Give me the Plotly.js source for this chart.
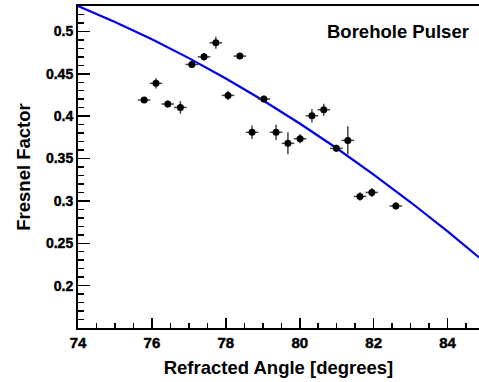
<!DOCTYPE html>
<html>
<head>
<meta charset="utf-8">
<script src="https://cdn.plot.ly/plotly-3.0.1.min.js"></script>
<style>
html,body{margin:0;padding:0;background:#fff;overflow:hidden}
.xtick text, .ytick text { font-weight: bold !important; stroke: #000; stroke-width: 0.45px; }
</style>
</head>
<body>
<div id="chart" style="width:479px;height:382px"></div>
<script>
// Measured data points
const angle = [75.79, 76.11, 76.43, 76.77, 77.08, 77.41, 77.73, 78.06, 78.38, 78.71, 79.03,
               79.36, 79.68, 80.01, 80.33, 80.65, 80.99, 81.30, 81.63, 81.95, 82.60];
const fresnel = [0.419, 0.4387, 0.4143, 0.4103, 0.461, 0.470, 0.4866, 0.4245, 0.4709, 0.3809, 0.4202,
                 0.381, 0.3679, 0.3734, 0.4005, 0.4076, 0.362, 0.3714, 0.3053, 0.310, 0.294];
const fresnelErr = [0.003, 0.006, 0.004, 0.0075, 0.004, 0.0045, 0.007, 0.0053, 0.0035, 0.008, 0.004,
                    0.009, 0.013, 0.0053, 0.008, 0.007, 0.0043, 0.0167, 0.005, 0.0053, 0.0043];
const angleErr = [0.17, 0.17, 0.17, 0.17, 0.17, 0.17, 0.17, 0.17, 0.17, 0.17, 0.17,
                  0.17, 0.17, 0.17, 0.17, 0.17, 0.17, 0.17, 0.17, 0.17, 0.17];

// Model curve
const curveAngle = [74, 75, 76, 77, 78, 79, 80, 81, 82, 83, 84, 84.88];
const curveFresnel = [0.5300, 0.5112, 0.4907, 0.4685, 0.4445, 0.4188, 0.3913, 0.3621, 0.3311, 0.2984, 0.2640, 0.2322];

// Tick labels and titles
const xTickVals = [74, 76, 78, 80, 82, 84];
const xTickText = ['74', '76', '78', '80', '82', '84'];
const yTickVals = [0.2, 0.25, 0.3, 0.35, 0.4, 0.45, 0.5];
const yTickText = ['0.2', '0.25', '0.3', '0.35', '0.4', '0.45', '0.5'];
const xTitle = 'Refracted Angle [degrees]';
const yTitle = 'Fresnel Factor';
const label = 'Borehole Pulser';

const FONT = 'Liberation Sans, Arial, Helvetica, sans-serif';
const bold = s => '<b>' + s + '</b>';

const traces = [
  {
    x: curveAngle, y: curveFresnel, type: 'scatter', mode: 'lines',
    line: {color: '#0000ee', width: 2.2},
    hoverinfo: 'skip', showlegend: false
  },
  {
    x: angle, y: fresnel, type: 'scatter', mode: 'markers',
    marker: {color: '#000', size: 7, symbol: 'circle'},
    error_y: {type: 'data', array: fresnelErr, visible: true, color: '#444', thickness: 1.5, width: 0},
    error_x: {type: 'data', array: angleErr, visible: true, color: '#444', thickness: 1.5, width: 0},
    showlegend: false
  }
];

const layout = {
  width: 479, height: 382,
  margin: {l: 78, r: 0, t: 6, b: 54, pad: 0},
  paper_bgcolor: '#fff', plot_bgcolor: '#fff',
  font: {family: FONT, color: '#000', size: 14},
  xaxis: {
    range: [74, 84.85], autorange: false,
    tickvals: xTickVals, ticktext: xTickText,
    ticks: 'inside', ticklen: 10, tickwidth: 1.5, tickcolor: '#000',
    minor: {dtick: 0.5, ticks: 'inside', ticklen: 5, tickwidth: 1.5, tickcolor: '#000', showgrid: false},
    showline: true, linecolor: '#000', linewidth: 2, mirror: true,
    showgrid: false, zeroline: false,
    tickfont: {family: FONT, size: 15, weight: 'bold', color: '#000'},
    title: {text: bold(xTitle), font: {family: FONT, size: 18.5, color: '#000'}, standoff: 11}
  },
  yaxis: {
    range: [0.15, 0.53], autorange: false,
    tickvals: yTickVals, ticktext: yTickText,
    ticks: 'inside', ticklen: 12, tickwidth: 1.5, tickcolor: '#000',
    minor: {dtick: 0.01, tick0: 0.15, ticks: 'inside', ticklen: 6, tickwidth: 1.5, tickcolor: '#000', showgrid: false},
    showline: true, linecolor: '#000', linewidth: 2, mirror: false,
    showgrid: false, zeroline: false,
    tickfont: {family: FONT, size: 14, weight: 'bold', color: '#000'},
    title: {text: bold(yTitle), font: {family: FONT, size: 18.5, color: '#000'}, standoff: 10}
  },
  annotations: [{
    text: bold(label), xref: 'paper', yref: 'paper', x: 0.98, y: 0.922,
    xanchor: 'right', yanchor: 'middle', showarrow: false,
    font: {family: FONT, size: 18.5, color: '#000'}
  }]
};

Plotly.newPlot('chart', traces, layout, {displayModeBar: false, staticPlot: true});
</script>
</body>
</html>
